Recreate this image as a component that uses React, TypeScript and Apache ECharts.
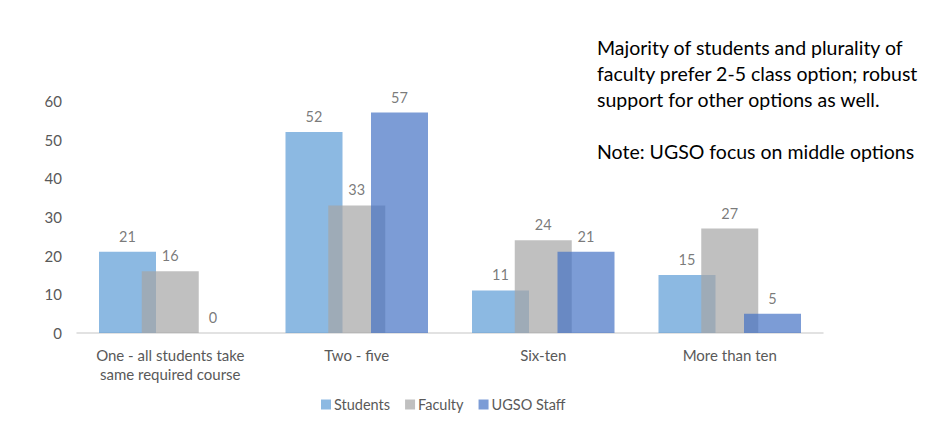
import React, { useEffect, useRef } from "react";
import * as echarts from "echarts";

const categories = [
  "One - all students take\nsame required course",
  "Two - five",
  "Six-ten",
  "More than ten",
];
const students = [21, 52, 11, 15];
const faculty = [16, 33, 24, 27];
const ugsoStaff = [0, 57, 21, 5];
const yTicks = { min: 0, max: 60, interval: 10 };

const noteLines = [
  "Majority of students and plurality of",
  "faculty prefer 2-5 class option; robust",
  "support for other options as well.",
  "",
  "Note: UGSO focus on middle options",
];

const FONT = "Lato";

export default function App() {
  const ref = useRef<HTMLDivElement>(null);

  useEffect(() => {
    if (!ref.current) return;
    const chart = echarts.init(ref.current, null, { renderer: "svg" });

    const barSeries = (name: string, data: number[], color: string) => ({
      name,
      type: "bar",
      data,
      barWidth: 57,
      barGap: "-25%",
      itemStyle: { color, opacity: 0.7 },
      label: {
        show: true,
        position: "top",
        distance: 8,
        color: "#404040",
        fontSize: 14.5,
        fontFamily: FONT,
      },
    });

    chart.setOption({
      animation: false,
      backgroundColor: "#ffffff",
      textStyle: { fontFamily: FONT },
      grid: { left: 77, right: 120, top: 101, bottom: 91, containLabel: false },
      legend: {
        left: 316,
        top: 392,
        itemWidth: 10,
        itemHeight: 10,
        itemGap: 15,
        icon: "rect",
        textStyle: { color: "#595959", fontSize: 14.5, fontFamily: FONT, padding: [0, 0, 0, -2] },
        data: ["Students", "Faculty", "UGSO Staff"],
      },
      xAxis: {
        type: "category",
        data: categories,
        axisLine: { lineStyle: { color: "#d9d9d9", width: 1.5 } },
        axisTick: { show: false },
        axisLabel: {
          color: "#595959",
          fontSize: 15,
          fontFamily: FONT,
          margin: 12,
          lineHeight: 19,
          interval: 0,
        },
      },
      yAxis: {
        type: "value",
        min: yTicks.min,
        max: yTicks.max,
        interval: yTicks.interval,
        splitLine: { show: false },
        axisLine: { show: false },
        axisTick: { show: false },
        axisLabel: { color: "#595959", fontSize: 15, fontFamily: FONT, margin: 15 },
      },
      graphic: [
        {
          type: "text",
          left: 597,
          top: 34,
          style: {
            text: noteLines.join("\n"),
            fill: "#000000",
            fontSize: 19.5,
            lineHeight: 26,
            fontFamily: FONT,
          },
        },
      ],
      series: [
        barSeries("Students", students, "#5B9BD5"),
        barSeries("Faculty", faculty, "#A5A5A5"),
        barSeries("UGSO Staff", ugsoStaff, "#4472C4"),
      ],
    });

    return () => chart.dispose();
  }, []);

  return (
    <div
      ref={ref}
      style={{ position: "fixed", left: 0, top: 0, width: 943, height: 424 }}
    />
  );
}
